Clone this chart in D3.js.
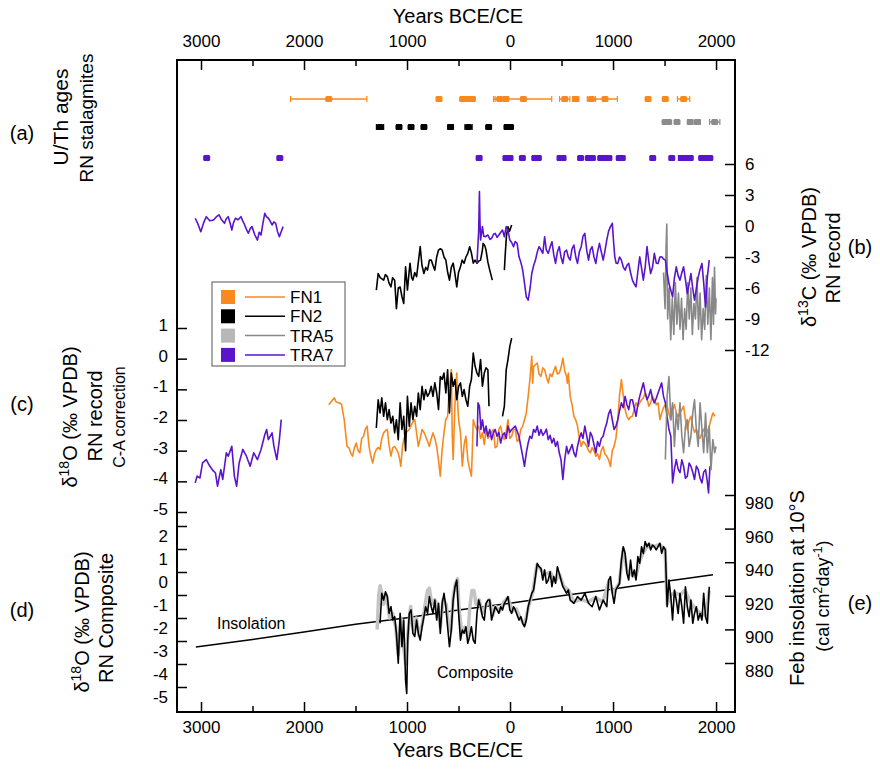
<!DOCTYPE html>
<html>
<head>
<meta charset="utf-8">
<script src="https://cdn.jsdelivr.net/npm/d3@7"></script>
<style>
  body { margin: 0; background: #fff; }
  svg { font-family: "Liberation Sans", Arial, sans-serif; }
</style>
</head>
<body>
<svg id="chart" width="880" height="775"></svg>
<script>
// ---- data (years BCE negative / CE positive) ----
const records = ['FN1', 'FN2', 'TRA5', 'TRA7'];

const xTicks = [-3000, -2000, -1000, 0, 1000, 2000];
const xMinorTicks = [-2500, -1500, -500, 500, 1500];
const c13Ticks = [6, 3, 0, -3, -6, -9, -12];
const o18Ticks = [1, 0, -1, -2, -3, -4, -5];
const compTicks = [2, 1, 0, -1, -2, -3, -4, -5];
const insolTicks = [980, 960, 940, 920, 900, 880];

// (a) U/Th ages: [age, 2-sigma error]
const ageFN1 = [[-1760, 370], [-690, 20], [-460, 20], [-410, 15], [-365, 15], [-100, 60], [-40, 20], [130, 275],
  [531, 50], [637, 30], [790, 40], [922, 120], [1340, 15], [1507, 15], [1685, 60]];
const ageFN2 = [[-1262, 35], [-1078, 20], [-961, 20], [-836, 20], [-577, 25], [-403, 35], [-208, 20], [-30, 20], [5, 20]];
const ageTRA5 = [[1505, 15], [1540, 15], [1621, 15], [1749, 25], [1820, 25], [1987, 50]];
const ageTRA7 = [[-2945, 15], [-2235, 15], [-300, 20], [-40, 20], [0, 20], [120, 15], [240, 20], [275, 20], [485, 20],
  [515, 20], [685, 15], [760, 15], [800, 15], [880, 20], [920, 20], [960, 20], [1060, 15], [1090, 15], [1385, 15],
  [1570, 15], [1665, 30], [1720, 20], [1750, 20], [1860, 15], [1900, 15], [1940, 15]];

// (b) d13C
const c13TRA7a = [[-3056, 0.75], [-3030, 0.2], [-3002, -0.55], [-2975, 0.3], [-2949, 0.9], [-2915, 0.5], [-2878, 0.58],
  [-2850, 0.9], [-2825, 1.07], [-2800, 0.6], [-2772, 0.26], [-2755, 0.7], [-2736, 0.9], [-2718, 0.3], [-2701, -0.39],
  [-2685, 0.3], [-2665, 0.75], [-2640, 0.6], [-2612, 0.9], [-2595, 0.5], [-2576, 0.1], [-2560, -0.3], [-2541, -0.7],
  [-2520, -0.2], [-2505, -0.06], [-2480, -0.8], [-2452, -1.36], [-2435, -0.6], [-2417, -0.87], [-2400, 0.2],
  [-2381, 1.23], [-2365, 0.9], [-2346, 0.75], [-2330, 0.5], [-2310, 0.1], [-2292, 0.4], [-2275, 0.26], [-2258, -0.5],
  [-2239, -1.04], [-2220, -0.5], [-2203, -0.06]];
const c13FN2a = [[-1298, -6.2], [-1280, -4.6], [-1260, -5.0], [-1227, -5.24], [-1210, -4.7], [-1191, -4.9], [-1175, -5.5],
  [-1156, -5.9], [-1140, -5.0], [-1120, -5.24], [-1103, -8.0], [-1085, -6.0], [-1067, -5.9], [-1050, -6.8],
  [-1032, -7.5], [-1014, -3.95], [-996, -6.2], [-980, -4.5], [-971, -3.6], [-955, -5.0], [-943, -5.24], [-925, -4.5],
  [-907, -4.9], [-890, -3.5], [-872, -2.0], [-855, -3.8], [-836, -4.6], [-818, -4.0], [-801, -4.27], [-783, -3.3],
  [-765, -3.3], [-748, -3.8], [-730, -4.27], [-712, -3.0], [-694, -2.33], [-676, -2.2], [-659, -2.33], [-641, -3.0],
  [-623, -3.3], [-605, -4.5], [-588, -5.24], [-570, -4.0], [-552, -3.6], [-535, -4.6], [-517, -5.9], [-500, -4.5],
  [-481, -3.95], [-465, -3.3], [-446, -3.6], [-428, -3.0], [-410, -2.65], [-392, -2.0], [-375, -2.6], [-357, -3.6],
  [-340, -3.3], [-321, -3.6], [-304, -3.4], [-286, -3.3], [-268, -2.3], [-261, -1.68], [-245, -1.9], [-233, -2.33],
  [-215, -3.5], [-197, -4.27], [-172, -5.24]];
const c13FN2b = [[-55, -4.27], [-45, -2.5], [-35, -1.0], [-20, -0.07], [-5, -0.5], [16, 0.1]];
const c13TRA7b = [[-321, -3.62], [-304, -0.39], [-297, 3.33], [-292, 0.5], [-286, -1.36], [-268, -0.06], [-255, -1.0],
  [-240, -1.04], [-215, -0.87], [-195, -1.3], [-179, -1.2], [-160, -0.8], [-144, -0.71], [-125, -1.1], [-108, -0.87],
  [-90, -0.6], [-73, -0.39], [-55, -1.04], [-37, -0.06], [-20, -0.39], [-2, -1.36], [16, -1.6], [34, -2.0], [50, -1.5],
  [69, -1.68], [87, -2.98], [105, -3.5], [123, -4.27], [140, -5.5], [158, -6.86], [176, -7.18], [195, -6.0],
  [211, -4.6], [230, -3.8], [247, -3.3], [265, -2.5], [282, -2.0], [300, -2.3], [318, -2.65], [336, -1.04],
  [352, -2.3], [371, -2.65], [390, -2.0], [407, -1.52], [425, -2.8], [442, -3.62], [460, -2.5], [478, -2.0],
  [495, -3.0], [513, -3.62], [530, -2.5], [549, -2.33], [566, -3.0], [584, -3.3], [602, -2.2], [620, -1.84],
  [638, -3.0], [655, -3.62], [673, -2.5], [691, -2.0], [708, -1.0], [726, -0.71], [744, -2.3], [762, -3.3],
  [780, -2.3], [797, -2.0], [815, -3.0], [833, -3.62], [850, -2.5], [868, -1.68], [886, -2.5], [904, -3.3],
  [920, -2.5], [939, -1.36], [957, -0.5], [975, -0.06], [993, 0.26], [1005, -1.5], [1017, -2.98], [1030, -3.6],
  [1046, -3.62], [1063, -3.0], [1081, -3.3], [1100, -4.0], [1117, -4.27], [1135, -3.8], [1152, -3.62], [1170, -4.5],
  [1188, -5.24], [1205, -5.6], [1223, -5.89], [1240, -4.5], [1259, -2.98], [1276, -4.0], [1294, -5.24], [1312, -4.0],
  [1330, -2.0], [1348, -3.5], [1365, -4.6], [1383, -4.0], [1401, -2.65], [1420, -3.6], [1437, -3.62], [1455, -3.0],
  [1472, -2.98], [1490, -3.2], [1508, -3.3], [1525, -4.5], [1543, -5.57], [1560, -6.2], [1578, -6.86], [1596, -5.0],
  [1614, -3.95], [1632, -4.8], [1650, -5.24], [1668, -4.5], [1685, -3.95], [1703, -5.2], [1721, -6.54], [1740, -5.5],
  [1756, -4.6], [1773, -6.0], [1791, -7.18], [1810, -6.0], [1827, -4.92], [1845, -4.2], [1863, -3.62], [1880, -5.5],
  [1898, -7.83], [1915, -5.0], [1934, -3.3]];
const c13TRA5 = [[1490, -4.5], [1505, -8], [1515, -2], [1522, 0.2], [1530, -9], [1545, -6], [1560, -11], [1575, -7],
  [1590, -10.5], [1605, -5.5], [1620, -9.5], [1635, -6.5], [1650, -10], [1665, -7], [1680, -11], [1695, -8],
  [1710, -10], [1725, -5.5], [1740, -9], [1755, -6], [1770, -10.5], [1785, -7.5], [1800, -9], [1815, -5], [1830, -10],
  [1845, -6.5], [1860, -11], [1875, -8], [1890, -10], [1905, -4.8], [1920, -9.5], [1935, -6], [1950, -11], [1965, -5],
  [1975, -9.5], [1985, -4], [1995, -8.5], [2000, -7]];

// (c) d18O
const o18TRA7a = [[-3056, -4.05], [-3038, -3.83], [-3010, -3.89], [-2985, -3.4], [-2949, -3.29], [-2914, -3.51],
  [-2878, -3.67], [-2860, -3.72], [-2840, -4.16], [-2825, -3.9], [-2807, -3.62], [-2789, -3.94], [-2754, -3.07],
  [-2736, -3.18], [-2701, -2.86], [-2676, -3.83], [-2654, -4.16], [-2630, -3.4], [-2594, -2.96], [-2559, -3.18],
  [-2523, -3.51], [-2488, -3.07], [-2452, -3.29], [-2417, -2.96], [-2381, -2.48], [-2363, -2.31], [-2346, -2.64],
  [-2310, -2.42], [-2292, -2.86], [-2264, -3.29], [-2239, -2.64], [-2221, -1.99]];
const o18FN1 = [[-1760, -1.5], [-1735, -1.4], [-1706, -1.28], [-1690, -1.4], [-1671, -1.44], [-1650, -1.45],
  [-1635, -1.5], [-1610, -1.99], [-1582, -2.86], [-1565, -2.9], [-1547, -3.07], [-1529, -3.18], [-1510, -2.9],
  [-1493, -2.75], [-1475, -3.0], [-1458, -3.07], [-1440, -2.6], [-1422, -2.53], [-1405, -2.3], [-1387, -2.2],
  [-1369, -2.86], [-1350, -3.2], [-1333, -3.4], [-1315, -3.1], [-1298, -2.96], [-1280, -2.9], [-1262, -2.96],
  [-1245, -2.6], [-1227, -2.42], [-1210, -2.35], [-1191, -2.31], [-1175, -2.8], [-1156, -3.18], [-1138, -2.9],
  [-1120, -2.86], [-1103, -2.96], [-1085, -3.07], [-1070, -3.3], [-1060, -3.51], [-1045, -2.9], [-1032, -2.64],
  [-1005, -2.4], [-978, -2.31], [-950, -2.1], [-925, -1.99], [-908, -2.4], [-890, -2.86], [-872, -2.6], [-854, -2.31],
  [-836, -2.4], [-819, -2.53], [-800, -2.7], [-783, -2.86], [-765, -2.6], [-748, -2.42], [-730, -2.6], [-712, -2.86],
  [-695, -3.3], [-677, -3.83], [-660, -3.0], [-641, -2.42], [-625, -2.0], [-606, -1.88], [-590, -1.0], [-570, -0.36],
  [-561, -2.5], [-552, -3.29], [-535, -1.5], [-517, -0.47], [-508, -1.5], [-499, -1.99], [-481, -2.42], [-463, -3.51],
  [-445, -2.8], [-428, -2.53], [-410, -3.29], [-392, -3.6], [-375, -3.83], [-366, -3.0], [-357, -1.99], [-339, -2.2],
  [-321, -2.31], [-304, -2.2], [-286, -2.6], [-268, -2.42], [-250, -2.8], [-233, -2.31], [-215, -2.6], [-197, -2.53],
  [-180, -2.4], [-162, -2.31], [-144, -2.9], [-126, -2.86], [-108, -2.3], [-91, -2.2], [-73, -2.5], [-55, -2.64],
  [-38, -2.4], [-20, -1.99], [-2, -2.6], [16, -2.53], [34, -2.3], [51, -2.31], [69, -2.7], [87, -2.64], [105, -2.3],
  [123, -2.2], [140, -2.0], [158, -1.77], [176, -1.23], [193, -0.68], [211, 0.08], [220, -0.8], [229, -0.25],
  [246, -0.2], [264, -0.14], [282, -0.5], [300, -0.58], [318, -0.3], [336, -0.36], [354, -0.6], [371, -0.79],
  [390, -0.5], [407, -0.58], [425, -0.4], [442, -0.25], [460, -0.5], [478, -0.47], [495, -0.3], [513, 0.02],
  [531, -0.4], [549, -0.58], [556, -0.8], [566, -0.47], [584, -1.23], [602, -1.5], [620, -1.88], [638, -2.0],
  [655, -2.2], [673, -2.6], [691, -2.86], [708, -2.7], [726, -2.75], [744, -2.86], [762, -3.0], [780, -3.07],
  [797, -2.9], [815, -3.0], [833, -3.18], [850, -3.1], [868, -3.29], [886, -3.0], [904, -2.86], [920, -3.1],
  [939, -3.18], [957, -3.3], [975, -3.51], [993, -3.0], [1010, -2.86], [1028, -2.6], [1046, -1.99], [1063, -1.2],
  [1081, -0.68], [1099, -1.2], [1117, -1.66], [1135, -1.88], [1152, -1.99], [1170, -1.9], [1188, -1.88],
  [1205, -1.66], [1223, -1.44], [1241, -1.55], [1259, -1.44], [1276, -1.34], [1294, -1.28], [1312, -1.12],
  [1330, -1.3], [1348, -1.55], [1365, -1.44], [1383, -1.23], [1401, -1.34], [1420, -1.5], [1437, -1.44],
  [1455, -1.99], [1472, -1.77], [1490, -1.6], [1508, -1.5], [1525, -1.55], [1543, -1.8], [1560, -2.0], [1578, -1.66],
  [1596, -1.5], [1614, -1.77], [1632, -1.9], [1650, -1.77], [1668, -1.66], [1685, -1.55], [1703, -2.0],
  [1721, -2.31], [1740, -2.0], [1756, -1.88], [1773, -2.2], [1791, -2.4], [1810, -2.3], [1827, -2.5], [1845, -2.6],
  [1863, -2.42], [1880, -2.3], [1898, -2.53], [1915, -2.4], [1934, -2.2], [1950, -2.0], [1969, -1.77], [1990, -1.88]];
const o18FN2a = [[-1298, -2.26], [-1280, -1.34], [-1262, -1.77], [-1245, -1.28], [-1227, -1.88], [-1209, -1.44],
  [-1191, -1.99], [-1174, -1.66], [-1156, -2.1], [-1138, -1.88], [-1120, -2.42], [-1103, -1.99], [-1085, -2.64],
  [-1067, -1.44], [-1049, -2.31], [-1032, -1.88], [-1014, -3.0], [-996, -1.23], [-978, -2.2], [-961, -1.44],
  [-943, -1.99], [-925, -1.55], [-907, -1.88], [-890, -1.12], [-872, -1.66], [-854, -0.9], [-836, -1.34],
  [-819, -1.01], [-801, -1.23], [-783, -1.12], [-765, -0.9], [-748, -1.23], [-730, -0.79], [-712, -1.12],
  [-694, -1.66], [-677, -0.58], [-659, -0.68], [-641, -0.47], [-623, -1.12], [-606, -0.36], [-588, -1.77],
  [-570, -0.47], [-552, -0.9], [-534, -0.68], [-517, -1.34], [-499, -0.9], [-481, -0.79], [-463, -1.23],
  [-446, -1.01], [-428, -1.34], [-410, -1.55], [-392, -0.9], [-375, -0.68], [-357, 0.18], [-339, -0.25],
  [-321, -0.47], [-304, -0.58], [-286, -0.03], [-268, -0.9], [-250, -0.47], [-233, -0.3], [-215, -0.36],
  [-204, -1.55]];
const o18FN2b = [[-73, -1.88], [-55, -1.55], [-37, -0.36], [-20, -0.03], [-2, 0.4], [16, 0.67]];
const o18TRA7b = [[-321, -2.86], [-311, -1.44], [-297, -1.55], [-283, -2.31], [-268, -1.99], [-250, -2.42],
  [-233, -2.2], [-215, -2.53], [-197, -2.31], [-179, -2.64], [-162, -2.42], [-144, -2.31], [-126, -2.53],
  [-108, -2.4], [-91, -2.75], [-73, -2.5], [-55, -2.42], [-37, -2.6], [-20, -2.2], [-2, -2.4], [16, -2.31],
  [51, -2.2], [87, -2.53], [105, -2.86], [123, -3.18], [140, -3.51], [158, -3.07], [176, -2.75], [193, -2.53],
  [211, -2.6], [229, -2.31], [247, -2.4], [264, -2.2], [282, -2.5], [300, -2.31], [318, -2.5], [336, -2.42],
  [353, -2.3], [371, -2.64], [389, -2.5], [407, -2.75], [425, -2.6], [442, -2.86], [460, -2.7], [478, -3.07],
  [495, -3.3], [513, -3.94], [531, -3.29], [549, -2.86], [566, -3.1], [584, -2.96], [602, -2.8], [620, -3.07],
  [638, -3.2], [655, -2.86], [673, -2.6], [691, -2.42], [708, -2.6], [726, -2.2], [744, -2.5], [762, -2.86],
  [780, -2.4], [797, -2.53], [815, -2.8], [833, -3.07], [850, -2.7], [868, -2.86], [886, -2.6], [904, -2.53],
  [920, -2.3], [939, -2.1], [957, -1.8], [975, -1.66], [993, -2.0], [1010, -2.31], [1028, -2.2], [1046, -1.99],
  [1063, -1.7], [1081, -1.44], [1099, -1.6], [1117, -1.23], [1135, -1.5], [1152, -1.66], [1170, -1.34],
  [1188, -1.34], [1206, -1.6], [1223, -1.88], [1241, -1.5], [1259, -1.23], [1277, -1.0], [1294, -0.79],
  [1312, -1.1], [1330, -1.34], [1348, -1.2], [1365, -1.01], [1383, -1.3], [1401, -1.44], [1419, -1.3],
  [1437, -1.12], [1455, -0.95], [1472, -0.79], [1490, -1.23], [1508, -1.44], [1525, -1.9], [1543, -2.31],
  [1561, -2.53], [1570, -3.3], [1578, -4.05], [1596, -3.6], [1614, -3.29], [1632, -3.6], [1650, -3.72],
  [1668, -3.3], [1685, -3.51], [1703, -3.9], [1721, -3.83], [1739, -3.4], [1756, -3.51], [1774, -3.7],
  [1791, -3.94], [1809, -3.5], [1827, -3.62], [1845, -3.9], [1863, -4.05], [1880, -3.7], [1898, -3.62],
  [1915, -4.0], [1927, -4.38], [1941, -3.51]];
const o18TRA5 = [[1508, -3.29], [1525, -1.23], [1543, -0.58], [1561, -1.99], [1578, -1.44], [1596, -2.86],
  [1614, -1.77], [1632, -2.31], [1650, -1.44], [1668, -2.53], [1685, -3.07], [1703, -2.2], [1721, -1.99],
  [1739, -2.86], [1756, -2.53], [1774, -1.77], [1791, -1.34], [1809, -2.31], [1827, -2.86], [1845, -1.44],
  [1863, -2.31], [1880, -3.07], [1898, -1.77], [1916, -3.07], [1934, -2.2], [1951, -3.62], [1969, -2.64],
  [1987, -3.07], [2000, -2.86]];

// (d) composite d18O
const compositeGrey = [[-1290, -2.5], [-1275, -1.0], [-1262, -0.6], [-1245, -0.9], [-1227, -1.4], [-1200, -1.0],
  [-1170, -2.0], [-1140, -1.8], [-1110, -2.4], [-1085, -3.6], [-1060, -2.0], [-1040, -3.0], [-1014, -4.0],
  [-990, -2.6], [-965, -1.5], [-940, -2.5], [-910, -2.0], [-880, -2.8], [-850, -2.2], [-820, -1.3], [-800, -0.8],
  [-783, -0.7], [-760, -1.4], [-730, -1.2], [-700, -1.5], [-677, -2.4], [-650, -1.2], [-620, -1.4], [-600, -2.2],
  [-575, -2.6], [-550, -1.0], [-530, -0.5], [-510, -0.3], [-495, -1.6], [-470, -2.6], [-440, -2.4], [-410, -2.8],
  [-390, -1.5], [-370, -0.8], [-350, -0.8], [-330, -1.4], [-300, -1.2], [-270, -1.8], [-240, -1.5], [-200, -1.2],
  [-170, -1.9], [-140, -1.5], [-100, -1.7], [-60, -1.3], [-20, -1.1], [20, -1.7], [60, -1.6], [100, -2.0],
  [140, -2.3], [180, -1.5], [220, -0.9], [260, 0.3], [300, 0.1], [340, -0.1], [390, 0.0], [440, -0.4], [480, -0.1],
  [520, -0.6], [570, -0.8], [620, -1.3], [690, -1.2], [760, -1.3], [830, -1.1], [900, -1.3], [960, -0.4],
  [1000, -0.9], [1060, -0.5], [1100, 1.0], [1140, 0.0], [1180, -0.1], [1220, -0.2], [1260, 0.5], [1300, 0.9],
  [1350, 1.2], [1400, 1.1], [1450, 1.2], [1505, 1.0], [1525, -1.4], [1560, -1.0], [1600, -0.9], [1650, -1.0],
  [1700, -0.8], [1750, -1.3], [1800, -1.6], [1850, -1.8], [1900, -1.9], [1934, -0.8]];
const compositeBlack = [[-1262, -2.23], [-1245, -0.93], [-1227, -1.22], [-1209, -0.86], [-1191, -1.07],
  [-1174, -1.8], [-1156, -1.51], [-1138, -2.09], [-1120, -1.94], [-1103, -2.67], [-1085, -3.97], [-1067, -1.8],
  [-1049, -3.25], [-1032, -2.09], [-1014, -4.7], [-1003, -5.28], [-993, -2.96], [-978, -1.8], [-961, -1.65],
  [-943, -2.67], [-925, -2.81], [-907, -2.09], [-890, -2.67], [-872, -2.96], [-854, -2.38], [-836, -1.94],
  [-819, -1.51], [-801, -1.8], [-783, -1.07], [-765, -1.51], [-748, -1.8], [-730, -1.22], [-712, -2.09],
  [-694, -1.36], [-677, -2.67], [-659, -1.36], [-641, -0.93], [-623, -1.51], [-606, -2.38], [-588, -3.25],
  [-570, -2.52], [-552, -1.22], [-534, -0.64], [-517, -0.35], [-499, -1.8], [-481, -2.96], [-463, -2.52],
  [-446, -2.67], [-428, -2.38], [-410, -3.1], [-392, -2.81], [-375, -2.38], [-357, -2.96], [-339, -3.1],
  [-321, -1.8], [-304, -1.22], [-286, -1.51], [-268, -1.94], [-250, -2.09], [-233, -1.36], [-215, -1.22],
  [-197, -1.22], [-179, -2.09], [-162, -1.8], [-144, -1.51], [-126, -1.65], [-108, -1.8], [-91, -1.51],
  [-73, -1.65], [-55, -1.36], [-37, -1.22], [-20, -1.07], [-2, -1.65], [16, -1.8], [34, -1.51], [51, -1.65],
  [87, -2.09], [105, -1.94], [123, -2.23], [140, -2.38], [158, -2.09], [176, -1.51], [193, -1.22], [211, -0.93],
  [229, -0.78], [247, -0.2], [264, 0.38], [282, 0.23], [300, 0.16], [318, -0.35], [336, 0.09], [353, -0.49],
  [371, -0.35], [389, 0.01], [407, -0.64], [424, -0.2], [442, -0.49], [460, 0.23], [478, -0.06], [495, -0.35],
  [513, -0.64], [549, -0.93], [566, -0.78], [584, -1.22], [620, -1.36], [655, -1.07], [691, -1.22], [726, -0.93],
  [762, -1.36], [797, -1.51], [833, -1.07], [868, -1.65], [904, -1.22], [939, -1.51], [957, -0.35], [975, -0.2],
  [993, -0.93], [1010, -1.36], [1028, -0.78], [1063, -0.49], [1081, 0.52], [1099, 1.1], [1117, 0.81],
  [1135, -0.06], [1152, -0.35], [1170, 0.52], [1188, -0.2], [1206, 0.09], [1223, -0.35], [1241, 0.67],
  [1259, 0.38], [1277, 1.1], [1294, 0.81], [1312, 1.32], [1330, 1.1], [1348, 1.25], [1365, 0.96], [1383, 1.17],
  [1401, 1.1], [1419, 0.96], [1437, 1.1], [1455, 1.25], [1472, 0.81], [1490, 1.1], [1508, 0.96], [1525, -1.51],
  [1543, -0.35], [1561, -1.07], [1578, -2.09], [1596, -0.78], [1614, -1.22], [1632, -1.8], [1650, -0.93],
  [1668, -1.51], [1685, -2.23], [1703, -0.64], [1721, -1.51], [1739, -1.94], [1756, -1.22], [1774, -2.23],
  [1791, -1.8], [1809, -1.51], [1827, -2.09], [1845, -1.8], [1863, -2.09], [1880, -0.93], [1898, -1.94],
  [1916, -2.23], [1934, -0.64]];

// (e) February insolation at 10 S
const insolation = [[-3050, 889.5], [-2500, 894], [-2000, 898.5], [-1500, 903], [-1000, 907], [-500, 911.5],
  [0, 915.5], [500, 920], [1000, 924], [1500, 928.5], [1970, 932.5]];

// ---- layout ----
const svg = d3.select('#chart');
const frame = { left: 177, right: 735, top: 60, bottom: 712 };

const x = d3.scaleLinear().domain([-3233, 2184]).range([frame.left, frame.right]);
const yB = d3.scaleLinear().domain([-12, 6]).range([350, 164]);
const yC = d3.scaleLinear().domain([-5, 1]).range([512, 328]);
const yD = d3.scaleLinear().domain([-5, 2]).range([687, 526]);
const yE = d3.scaleLinear().domain([880, 980]).range([663, 495]);
const rowY = d3.scaleOrdinal().domain(records).range([99, 127, 122, 158]);
const lineColour = d3.scaleOrdinal().domain(records).range(['#f7891f', '#000000', '#888888', '#5a14cc']);
const boxColour = d3.scaleOrdinal().domain(records).range(['#f7891f', '#000000', '#b8b8b8', '#5a14cc']);

svg.append('rect').attr('width', 880).attr('height', 775).attr('fill', '#fff');

function drawSeries(data, y, colour, width) {
  const line = d3.line().x(d => x(d[0])).y(d => y(d[1]));
  svg.append('path')
    .datum(data)
    .attr('d', line)
    .attr('fill', 'none')
    .attr('stroke', colour)
    .attr('stroke-width', width)
    .attr('stroke-linejoin', 'round');
}

// (a) U/Th ages with error bars
function drawAges(ages, name) {
  const g = svg.append('g');
  const yy = rowY(name);
  const c = name === 'TRA5' ? '#8c8c8c' : lineColour(name);
  ages.forEach(([age, err]) => {
    g.append('line').attr('x1', x(age - err)).attr('x2', x(age + err))
      .attr('y1', yy).attr('y2', yy).attr('stroke', c).attr('stroke-width', 1.5);
    [age - err, age + err].forEach(e => {
      g.append('line').attr('x1', x(e)).attr('x2', x(e))
        .attr('y1', yy - 3).attr('y2', yy + 3).attr('stroke', c).attr('stroke-width', 1.2);
    });
    g.append('rect').attr('x', x(age) - 3.5).attr('y', yy - 3).attr('width', 7).attr('height', 6)
      .attr('rx', 1.5).attr('fill', c);
  });
}
drawAges(ageFN1, 'FN1');
drawAges(ageFN2, 'FN2');
drawAges(ageTRA5, 'TRA5');
drawAges(ageTRA7, 'TRA7');

// (b) d13C
drawSeries(c13TRA7a, yB, lineColour('TRA7'), 1.6);
drawSeries(c13FN2a, yB, lineColour('FN2'), 1.6);
drawSeries(c13FN2b, yB, lineColour('FN2'), 1.6);
drawSeries(c13TRA5, yB, lineColour('TRA5'), 1.6);
drawSeries(c13TRA7b, yB, lineColour('TRA7'), 1.6);

// (c) d18O
drawSeries(o18TRA7a, yC, lineColour('TRA7'), 1.6);
drawSeries(o18FN1, yC, lineColour('FN1'), 1.6);
drawSeries(o18TRA7b, yC, lineColour('TRA7'), 1.6);
drawSeries(o18FN2a, yC, lineColour('FN2'), 1.6);
drawSeries(o18FN2b, yC, lineColour('FN2'), 1.6);
drawSeries(o18TRA5, yC, lineColour('TRA5'), 1.6);

// (d) composite and (e) insolation
drawSeries(insolation, yE, '#000', 1.5);
drawSeries(compositeGrey, yD, '#c4c4c4', 3.5);
drawSeries(compositeBlack, yD, '#000', 1.6);

svg.append('text').attr('x', 217).attr('y', 629).attr('font-size', 16).text('Insolation');
svg.append('text').attr('x', 437).attr('y', 678).attr('font-size', 16).text('Composite');

// ---- axes ----
function styleAxis(g, size) {
  g.select('.domain').remove();
  g.selectAll('.tick line').attr('stroke', '#000').attr('stroke-width', 1.5);
  g.selectAll('text').attr('font-size', size).attr('font-family', 'inherit').attr('fill', '#000');
}

const fmtAbs = d => Math.abs(d);
const fmtInt = d => String(d);
svg.append('g').attr('transform', `translate(0,${frame.top})`)
  .call(d3.axisTop(x).tickValues(xTicks).tickSize(-10).tickPadding(13).tickFormat(fmtAbs))
  .call(g => styleAxis(g, 17));
svg.append('g').attr('transform', `translate(0,${frame.top})`)
  .call(d3.axisTop(x).tickValues(xMinorTicks).tickSize(-6).tickFormat(''))
  .call(g => styleAxis(g, 17));
svg.append('g').attr('transform', `translate(0,${frame.bottom})`)
  .call(d3.axisBottom(x).tickValues(xTicks).tickSize(-10).tickPadding(9).tickFormat(fmtAbs))
  .call(g => styleAxis(g, 17));
svg.append('g').attr('transform', `translate(0,${frame.bottom})`)
  .call(d3.axisBottom(x).tickValues(xMinorTicks).tickSize(-6).tickFormat(''))
  .call(g => styleAxis(g, 17));

svg.append('g').attr('transform', `translate(${frame.right},0)`)
  .call(d3.axisRight(yB).tickValues(c13Ticks).tickSize(-10).tickPadding(10).tickFormat(fmtInt))
  .call(g => styleAxis(g, 17));
svg.append('g').attr('transform', `translate(${frame.left},0)`)
  .call(d3.axisLeft(yC).tickValues(o18Ticks).tickSize(-10).tickPadding(9).tickFormat(fmtInt))
  .call(g => styleAxis(g, 17))
  .call(g => g.selectAll('text').attr('y', -3));
svg.append('g').attr('transform', `translate(${frame.left},0)`)
  .call(d3.axisLeft(yD).tickValues(compTicks).tickSize(-10).tickPadding(9).tickFormat(fmtInt))
  .call(g => styleAxis(g, 17))
  .call(g => g.selectAll('text').attr('y', 10));
svg.append('g').attr('transform', `translate(${frame.right},0)`)
  .call(d3.axisRight(yE).tickValues(insolTicks).tickSize(-10).tickPadding(10).tickFormat(fmtInt))
  .call(g => styleAxis(g, 17))
  .call(g => g.selectAll('text').attr('y', 8));

svg.append('rect')
  .attr('x', frame.left).attr('y', frame.top)
  .attr('width', frame.right - frame.left).attr('height', frame.bottom - frame.top)
  .attr('fill', 'none').attr('stroke', '#000').attr('stroke-width', 2);

// ---- titles ----
svg.append('text').attr('x', 458).attr('y', 23).attr('text-anchor', 'middle').attr('font-size', 20).text('Years BCE/CE');
svg.append('text').attr('x', 458).attr('y', 757).attr('text-anchor', 'middle').attr('font-size', 20).text('Years BCE/CE');

function vText(cx, cy, size) {
  return svg.append('text')
    .attr('transform', `translate(${cx},${cy}) rotate(-90)`)
    .attr('text-anchor', 'middle').attr('dy', '0.35em').attr('font-size', size);
}
function addDelta(t, iso, rest) {
  t.append('tspan').text('δ');
  t.append('tspan').attr('baseline-shift', 'super').attr('font-size', '70%').text(iso);
  t.append('tspan').text(rest);
}

vText(61, 117, 21).text('U/Th ages');
vText(86, 118, 19).text('RN stalagmites');
addDelta(vText(70, 417, 20), '18', 'O (‰ VPDB)');
vText(95, 416, 20).text('RN record');
vText(119, 417, 16).text('C-A correction');
addDelta(vText(82, 622, 20), '18', 'O (‰ VPDB)');
vText(106, 618, 20).text('RN Composite');

addDelta(vText(809, 257, 20), '13', 'C (‰ VPDB)');
vText(833, 258, 20).text('RN record');
vText(797, 588, 20).text('Feb insolation at 10°S');
const unit = vText(823, 596, 18);
unit.append('tspan').text('(cal cm');
unit.append('tspan').attr('baseline-shift', 'super').attr('font-size', '70%').text('2');
unit.append('tspan').text('day');
unit.append('tspan').attr('baseline-shift', 'super').attr('font-size', '70%').text('-1');
unit.append('tspan').text(')');

[['(a)', 22, 140], ['(b)', 860, 254], ['(c)', 22, 411], ['(d)', 22, 617], ['(e)', 860, 610]].forEach(([t, tx, ty]) => {
  svg.append('text').attr('x', tx).attr('y', ty).attr('text-anchor', 'middle').attr('font-size', 20).text(t);
});

// ---- legend ----
const legend = svg.append('g');
legend.append('rect').attr('x', 212).attr('y', 282).attr('width', 133).attr('height', 84)
  .attr('fill', '#fff').attr('stroke', '#555').attr('stroke-width', 1);
records.forEach((name, i) => {
  const ly = 297 + i * 19.3;
  legend.append('rect').attr('x', 221).attr('y', ly - 7).attr('width', 14).attr('height', 14).attr('fill', boxColour(name));
  legend.append('line').attr('x1', 245).attr('x2', 285).attr('y1', ly).attr('y2', ly)
    .attr('stroke', lineColour(name)).attr('stroke-width', 1.5);
  legend.append('text').attr('x', 290).attr('y', ly).attr('dy', '0.35em').attr('font-size', 17).text(name);
});
</script>
</body>
</html>
